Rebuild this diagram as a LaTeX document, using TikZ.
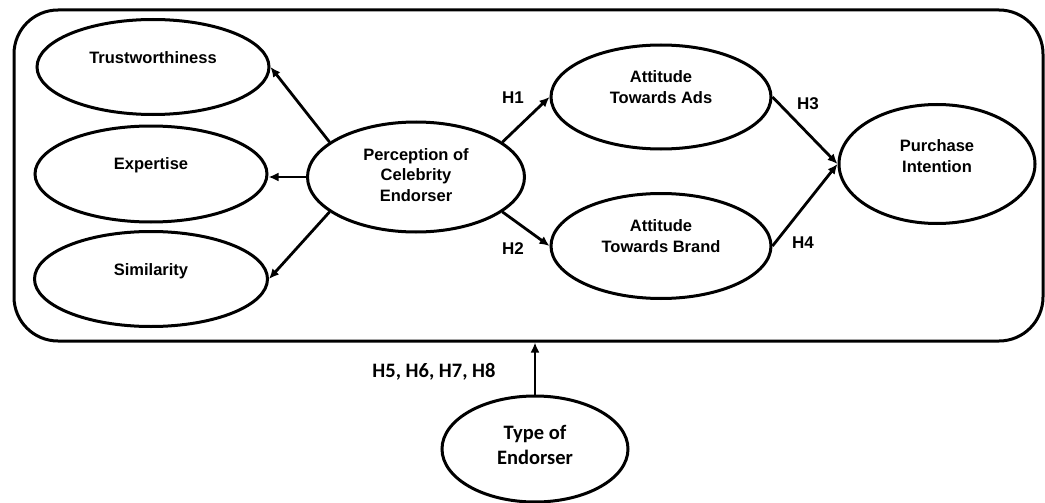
\documentclass[tikz,border=0pt]{standalone}
\usepackage{fontspec}
\setmainfont{Liberation Sans}
\newfontfamily\calibrifont{Carlito}
\usetikzlibrary{arrows.meta,shapes.geometric,positioning}

\begin{document}
\begin{tikzpicture}[x=1pt,y=-1pt,>={Latex[length=10pt,width=9pt]},
  oval/.style={ellipse,draw,line width=3pt,inner sep=0pt},
  lbl/.style={font=\fontsize{16.5}{20.5}\selectfont\bfseries,align=center},
  callbl/.style={font=\calibrifont\fontsize{20.5}{25}\selectfont\bfseries,align=center},
  link/.style={->,line width=2.8pt}]
  \useasboundingbox (0,0) rectangle (1045,503);
  % outer frame
  \node[draw,line width=3pt,rounded corners=44pt,minimum width=1029,
        minimum height=331,inner sep=0pt] (frame) at (528.5,175.5) {};
  % dimensions of the endorser
  \node[oval,minimum width=232,minimum height=95,
        label={[lbl,yshift=9pt]center:Trustworthiness}] (trust) at (153,67) {};
  \node[oval,minimum width=232,minimum height=96,
        label={[lbl,yshift=9pt]center:Expertise}] (expert) at (151,174) {};
  \node[oval,minimum width=233,minimum height=95,
        label={[lbl,yshift=8pt]center:Similarity}] (similar) at (151,279) {};
  \node[oval,minimum width=217,minimum height=110,
        label={[lbl,yshift=2pt]center:Perception of\\Celebrity\\Endorser}] (percep) at (416,177) {};
  % attitudes and outcome
  \node[oval,minimum width=220,minimum height=104,
        label={[lbl,yshift=10pt]center:Attitude\\Towards Ads}] (adatt) at (661,97) {};
  \node[oval,minimum width=220,minimum height=105,
        label={[lbl,yshift=10pt]center:Attitude\\Towards Brand}] (brandatt) at (661,246) {};
  \node[oval,minimum width=196,minimum height=119,
        label={[lbl,yshift=8pt]center:Purchase\\Intention}] (purchase) at (937,164) {};
  % moderator
  \node[oval,minimum width=186,minimum height=106,
        label={[callbl,yshift=4pt]center:Type of\\Endorser}] (type) at (535,449) {};

  \draw[link] (percep.158) -- (trust.east);
  \draw[link] (percep.west) -- (percep.west -| expert.east);
  \draw[link] (percep.202) -- (similar.east);
  \draw[link] (percep.22) -- (adatt.west);
  \draw[link] (percep.338) -- (brandatt.west);
  \draw[link] (adatt.east) -- (purchase.west);
  \draw[link] (brandatt.east) -- (purchase.west);
  \draw[link] (type.north) -- (type.north |- frame.south);

  % hypothesis labels
  \node[lbl,font=\fontsize{17}{20}\selectfont\bfseries] (h1) at (513,98) {H1};
  \node[lbl,font=\fontsize{17}{20}\selectfont\bfseries] (h2) at (513,249) {H2};
  \node[lbl,font=\fontsize{17}{20}\selectfont\bfseries] (h3) at (808,104) {H3};
  \node[lbl,font=\fontsize{17}{20}\selectfont\bfseries] (h4) at (803,243) {H4};
  \node[callbl] (hmod) at (434,372) {H5, H6, H7, H8};
\end{tikzpicture}
\end{document}
